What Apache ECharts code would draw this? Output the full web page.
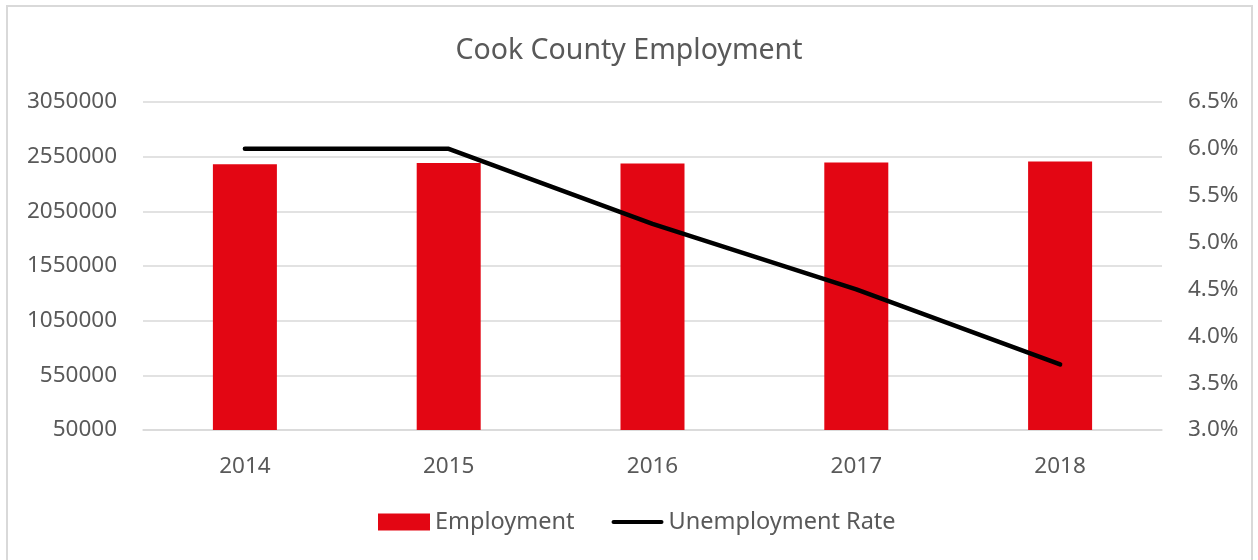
<!DOCTYPE html>
<html>
<head>
<meta charset="utf-8">
<script src="https://cdn.jsdelivr.net/npm/echarts@6/dist/echarts.min.js"></script>
<style>
  html, body { margin: 0; padding: 0; background: #fff; }
  #chart { width: 1258px; height: 560px; }
</style>
</head>
<body>
<div id="chart"></div>
<script>
// Cook County employment and unemployment rate, 2014–2018
const years = ['2014', '2015', '2016', '2017', '2018'];
const employment = [2480000, 2492000, 2487000, 2497000, 2505000];
const unemploymentRate = [6.0, 6.0, 5.2, 4.5, 3.7];

const textColor = '#595959';
const gridColor = '#d9d9d9';
const fontFamily = '"Noto Sans", sans-serif';

const chart = echarts.init(document.getElementById('chart'));
chart.setOption({
  backgroundColor: '#ffffff',
  textStyle: { fontFamily: fontFamily, color: textColor },
  title: {
    text: 'Cook County Employment',
    left: 'center',
    top: 31,
    textStyle: { fontFamily: fontFamily, fontSize: 28.5, fontWeight: 'normal', color: textColor }
  },
  graphic: [{
    type: 'rect',
    shape: { x: 7, y: 6, width: 1245, height: 600 },
    style: { fill: 'none', stroke: gridColor, lineWidth: 2 },
    silent: true,
    z: -1
  }],
  legend: {
    bottom: 21,
    left: 373,
    itemWidth: 52,
    itemHeight: 17,
    itemGap: 37,
    textStyle: { fontFamily: fontFamily, fontSize: 23.5, color: textColor },
    data: [
      { name: 'Employment', icon: 'rect' },
      { name: 'Unemployment Rate', icon: 'path://M2,0 H48 A2,2 0 0 1 48,4 H2 A2,2 0 0 1 2,0 Z' }
    ]
  },
  grid: { left: 143, right: 96, top: 102, bottom: 130, containLabel: false },
  xAxis: {
    type: 'category',
    data: years,
    axisLine: { show: true, lineStyle: { color: gridColor, width: 1.5 } },
    axisTick: { show: false },
    axisLabel: { color: textColor, fontSize: 22.5, margin: 25, fontFamily: fontFamily }
  },
  yAxis: [{
    type: 'value',
    min: 50000,
    max: 3050000,
    interval: 500000,
    axisLine: { show: false },
    axisTick: { show: false },
    splitLine: { lineStyle: { color: gridColor, width: 1.5 } },
    axisLabel: {
      color: textColor, fontSize: 22.5, margin: 26, fontFamily: fontFamily,
      formatter: v => String(v)
    }
  }, {
    type: 'value',
    min: 3.0,
    max: 6.5,
    interval: 0.5,
    position: 'right',
    axisLine: { show: false },
    axisTick: { show: false },
    splitLine: { show: false },
    axisLabel: {
      color: textColor, fontSize: 22.5, margin: 26, fontFamily: fontFamily,
      formatter: v => v.toFixed(1) + '%'
    }
  }],
  series: [{
    name: 'Employment',
    type: 'bar',
    data: employment,
    barWidth: 64,
    itemStyle: { color: '#e30613' }
  }, {
    name: 'Unemployment Rate',
    type: 'line',
    yAxisIndex: 1,
    data: unemploymentRate,
    symbol: 'none',
    lineStyle: { color: '#000000', width: 4.5, cap: 'round', join: 'round' },
    itemStyle: { color: '#000000' }
  }]
});
</script>
</body>
</html>
